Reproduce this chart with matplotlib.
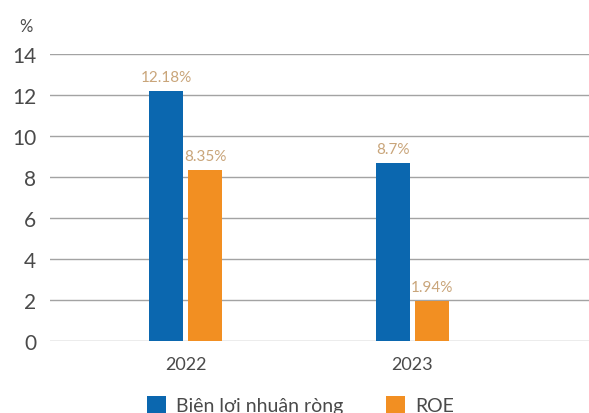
import matplotlib
matplotlib.use("Agg")
import matplotlib.pyplot as plt
import numpy as np

years = ["2022", "2023"]
net_margin = [12.18, 8.7]
roe = [8.35, 1.94]
net_labels = ["12.18%", "8.7%"]
roe_labels = ["8.35%", "1.94%"]
series_names = ["Biên lợi nhuận ròng", "ROE"]
yticks = [0, 2, 4, 6, 8, 10, 12, 14]

plt.rcParams['font.family'] = ['Lato', 'DejaVu Sans']

BLUE = "#0B67AF"
ORANGE = "#F28F22"
LABEL = "#C9A57A"
GRID = "#A3A3A3"
TEXT = "#4A4A4A"

fig = plt.figure(figsize=(5.89, 4.14), dpi=100)
ax = fig.add_axes([0.085, 0.174, 0.915, 0.693])

x = np.arange(len(years))
w = 0.15
gap = 0.011
b1 = ax.bar(x - w/2 - gap, net_margin, w, color=BLUE, label=series_names[0], zorder=3)
b2 = ax.bar(x + w/2 + gap, roe, w, color=ORANGE, label=series_names[1], zorder=3)

for rect, lab in zip(b1, net_labels):
    ax.annotate(lab, (rect.get_x() + rect.get_width()/2, rect.get_height()),
                xytext=(0, 5), textcoords="offset points", ha="center", va="bottom",
                color=LABEL, fontsize=11)
for rect, lab in zip(b2, roe_labels):
    ax.annotate(lab, (rect.get_x() + rect.get_width()/2, rect.get_height()),
                xytext=(0, 5), textcoords="offset points", ha="center", va="bottom",
                color=LABEL, fontsize=11)

ax.set_ylim(0, 14)
ax.set_xlim(-0.597, 1.778)
ax.set_yticks(yticks)
ax.set_xticks(x)
ax.set_xticklabels(years)
ax.yaxis.grid(True, color=GRID, linewidth=1, zorder=0)
ax.set_axisbelow(True)
for s in ax.spines.values():
    s.set_visible(False)
ax.tick_params(axis='both', length=0, colors=TEXT)
ax.tick_params(axis='y', labelsize=15, pad=10)
ax.tick_params(axis='x', labelsize=13, pad=11)

fig.text(0.032, 0.935, "%", fontsize=12, color=TEXT, ha="left", va="center")

fig.legend(handles=[b1, b2], labels=series_names, loc="lower center",
           bbox_to_anchor=(0.51, -0.045), ncol=2, frameon=False,
           fontsize=14, handlelength=1.0, handleheight=1.0, columnspacing=2.2,
           handletextpad=0.5, labelcolor=TEXT)

fig.savefig("out.png", dpi=100)
